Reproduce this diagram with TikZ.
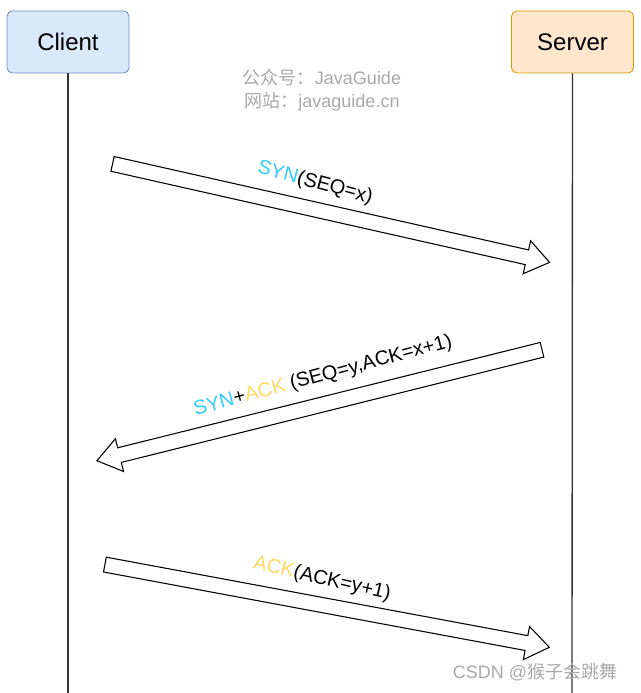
\documentclass[tikz,border=0pt]{standalone}
\usepackage{fontspec}
\setmainfont{Liberation Sans}
\newfontfamily\cjk{Noto Sans CJK SC}
\usetikzlibrary{shapes.arrows}
\definecolor{cfill}{HTML}{DAE8FC}\definecolor{cdraw}{HTML}{6C8EBF}
\definecolor{sfill}{HTML}{FFE6CC}\definecolor{sdraw}{HTML}{D79B00}
\definecolor{syn}{HTML}{33CCFF}\definecolor{ack}{HTML}{FFD966}
\definecolor{wm}{HTML}{A8A8A8}
\begin{document}
\begin{tikzpicture}[x=0.75pt,y=0.75pt,
  party/.style={draw, rounded corners=4pt, minimum width=91.5pt, minimum height=46.5pt, font=\fontsize{18}{21}\selectfont, line width=0.6pt},
  life/.style={line width=1pt, black!80},
  msg/.style={single arrow, draw, line width=0.8pt, fill=white, inner xsep=0pt, inner ysep=5.25pt,
     minimum width=25pt, single arrow head extend=7pt, single arrow tip angle=72, single arrow head indent=0pt},
  lbl/.style={font=\fontsize{15}{18}\selectfont},
  wmk/.style={text=wm, font=\fontsize{13.5}{16}\selectfont}]
\useasboundingbox (0,0) rectangle (640,693);
\node[party, fill=cfill, draw=cdraw] (client) at (68,651) {Client};
\node[party, fill=sfill, draw=sdraw] (server) at (572.5,651) {Server};
\coordinate (cend) at (68,0);
\coordinate (send) at (572,0);
\draw[life] (client.south) -- (cend);
\draw[life] (server.south) -- (send);
\node[wmk] (w1) at (322,615) {{\cjk 公众号：}JavaGuide};
\node[wmk] (w2) at (322,591) {{\cjk 网站：}javaguide.cn};
\node[msg, minimum height=336pt, rotate=-12.7] (m1) at (326,481) {};
\node[msg, minimum height=344pt, rotate=194] (m2) at (324.5,289) {};
\node[msg, minimum height=339pt, rotate=-10.55] (m3) at (322,88) {};
\node[lbl, rotate=-15] (l1) at (315,510) {\textcolor{syn}{SYN}(SEQ=x)};
\node[lbl, rotate=15] (l2) at (323,317) {\textcolor{syn}{SYN}+\textcolor{ack}{ACK} (SEQ=y,ACK=x+1)};
\node[lbl, rotate=-13] (l3) at (322,114) {\textcolor{ack}{ACK}(ACK=y+1)};
\node[wmk] (csdn) at (535,21) {CSDN @{\cjk 猴子会跳舞}};
\end{tikzpicture}
\end{document}
